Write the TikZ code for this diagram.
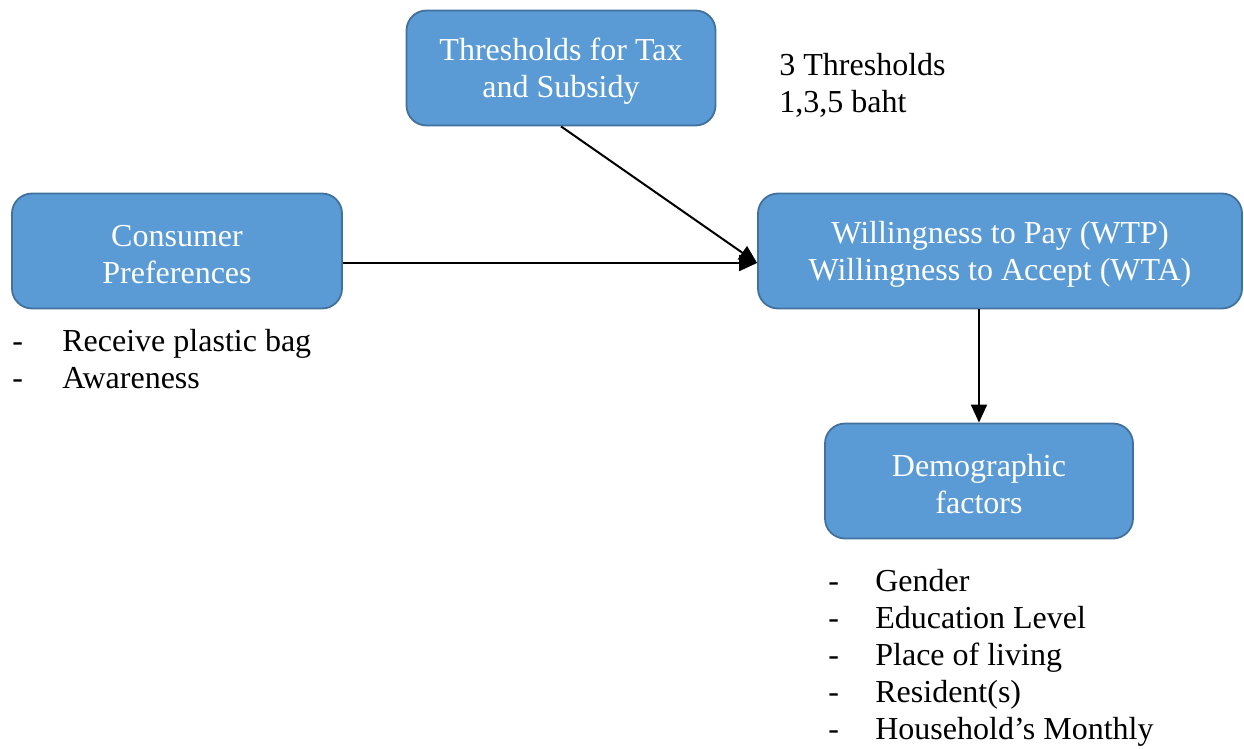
\documentclass[tikz,border=0pt]{standalone}
\usepackage{fontspec}
\setmainfont{Liberation Serif}
\usetikzlibrary{arrows.meta}
\definecolor{boxblue}{HTML}{5B9BD5}
\definecolor{boxline}{HTML}{41719C}
\begin{document}
\begin{tikzpicture}[x=0.5pt, y=-0.5pt]
\fontsize{16}{18.5}\selectfont
\tikzset{
    factor/.style={draw=boxline, line width=0.9pt, fill=boxblue, rounded corners=10pt,
        text=white, align=center, text height=32.5pt, minimum height=57.5pt, inner sep=0pt},
    note/.style={anchor=north west, inner sep=0pt, align=left},
    arr/.style={-{Triangle[length=9pt, width=8pt]}, line width=1pt},
}
\useasboundingbox (0,0) rectangle (1244,749);

% The four boxes.
\node[factor, minimum width=154.5pt] (thr)  at (561,68)  {Thresholds for Tax\\and Subsidy};
\node[factor, minimum width=165pt]   (cons) at (177,251) {Consumer\\Preferences};
\node[factor, minimum width=242pt]   (wtp)  at (1000,251) {Willingness to Pay (WTP)\\Willingness to Accept (WTA)};
\node[factor, minimum width=154pt]   (demo) at (979,481) {Demographic\\factors};

% Notes beside and below the boxes.
\node[note] (thrNote) at (779,53) {3 Thresholds\\1,3,5 baht};
\node[note] (consList) at (12,325) {%
  \begin{tabular}{@{}p{25pt}@{}l@{}}
  - & Receive plastic bag\\
  - & Awareness
  \end{tabular}};
\node[note] (demoList) at (828,565) {%
  \begin{tabular}{@{}p{23.5pt}@{}l@{}}
  - & Gender\\
  - & Education Level\\
  - & Place of living\\
  - & Resident(s)\\
  - & Household’s Monthly
  \end{tabular}};

% Arrows into and out of WTP/WTA.
\draw[arr] (thr.south) -- ([yshift=-6pt]wtp.west);
\draw[arr] ([yshift=-6pt]cons.east) -- ([yshift=-6pt]wtp.west);
\draw[arr] (wtp.south -| demo.north) -- (demo.north);
\end{tikzpicture}
\end{document}
